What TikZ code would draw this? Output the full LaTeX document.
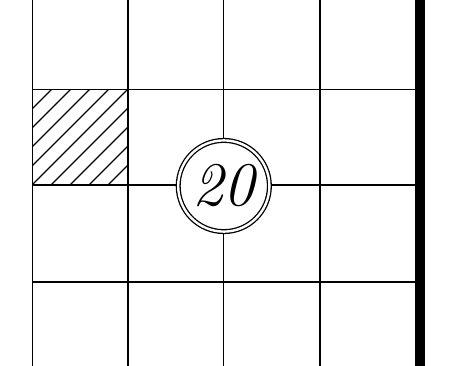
\documentclass[tikz,border=0pt]{standalone}
\begin{document}
\begin{tikzpicture}[x=1pt,y=-1pt,
  gridline/.style={line width=1.6pt, black},
  hatchline/.style={line width=1.4pt, black},
  bar/.style={fill=black},
  ring/.style={circle, draw=black, line width=1.3pt, double=white, double distance=2.4pt, fill=white, minimum size=91.2pt, inner sep=0pt, font=\fontsize{62}{62}\selectfont\itshape}]
\useasboundingbox (0,0) rectangle (449,366);
% hatched cell
\begin{scope}
\clip (32,89.5) rectangle (128,185);
\foreach \k in {-5,...,10} {
  \draw[hatchline] (32+19*\k,185) -- ++(110,-110);
}
\end{scope}
% grid
\foreach \x in {32.3,127.7,223.3,320} {
  \draw[gridline] (\x,0) -- (\x,366);
}
\foreach \y in {89.5,185,281.7} {
  \draw[gridline] (32.3,\y) -- (415,\y);
}
\fill[bar] (414.7,0) rectangle (425.3,366);
\node[ring] (c) at (223.8,186) {20};
\end{tikzpicture}
\end{document}
